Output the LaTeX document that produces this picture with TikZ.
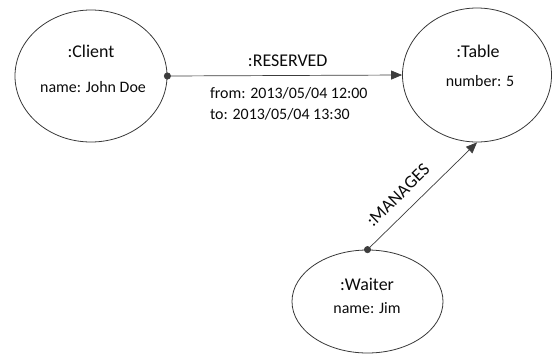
\documentclass[tikz,border=0pt]{standalone}
\usepackage{fontspec}
\setmainfont{Carlito}
\usetikzlibrary{positioning, arrows.meta, shapes.geometric}
\definecolor{outline}{RGB}{55,55,55}
\definecolor{linkgray}{RGB}{60,60,60}
\definecolor{inkgray}{RGB}{10,10,10}
\tikzset{
  object/.style={
    ellipse, draw=outline, line width=0.8bp, inner sep=0pt
  },
  objname/.style={font=\fontsize{18}{20}\selectfont, text=inkgray},
  objattr/.style={font=\fontsize{16}{21}\selectfont, text=inkgray},
  link/.style={
    draw=linkgray, line width=0.7bp, shorten <=-3.5bp,
    {Circle[length=7bp]}-{Triangle[length=11bp, width=9bp]}
  },
}

\begin{document}
\begin{tikzpicture}[x=1bp, y=-1bp]
  \useasboundingbox (0,0) rectangle (552,354);

  % Objects
  \node[object, minimum width=152bp, minimum height=132bp] (client) at (91,76) {};
  \node[object, minimum width=149bp, minimum height=134bp] (table) at (477,75) {};
  \node[object, minimum width=151bp, minimum height=103bp] (waiter) at (367.5,301.5) {};

  % Names and attributes
  \node[objname] (clientname) at (91,51) {:Client};
  \node[objattr] (clientattr) at (93,87) {name: John Doe};
  \node[objname] (tablename) at (478,51) {:Table};
  \node[objattr] (tableattr) at (480,81) {number: 5};
  \node[objname] (waitername) at (367,284) {:Waiter};
  \node[objattr] (waiterattr) at (367,308) {name: Jim};

  % Links
  \draw[link] (client.east) --
    node[objname, above=5bp, xshift=3bp] (reservedlbl) {:RESERVED}
    node[objattr, below=8bp, xshift=4bp, align=left] (timelbl) {from: 2013/05/04 12:00\\to: 2013/05/04 13:30}
    (table.west);
  \draw[link] (waiter.north) --
    node[objname, sloped, above=8bp, pos=0.39] (manageslbl) {:MANAGES}
    (table.south);

\end{tikzpicture}
\end{document}
